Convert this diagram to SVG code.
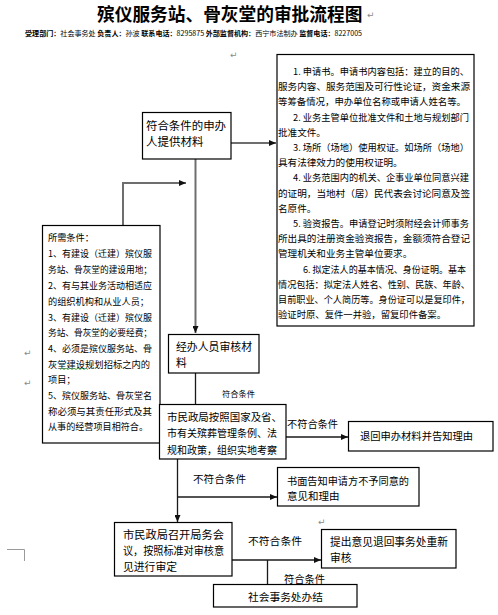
<svg xmlns="http://www.w3.org/2000/svg" width="498" height="615" viewBox="0 0 498 615">
<style>
text{font-family:"Noto Sans CJK SC","Noto Sans",sans-serif;fill:#000;dominant-baseline:central}
.title{font-size:17.7px;font-weight:bold}
.hdr{font-size:7px}
.b{font-weight:bold}
.box{fill:#fff;stroke:#000;stroke-width:1.2}
.t96{font-size:9.6px}
.t92{font-size:9.2px}
.t10{font-size:10.5px}
.t11{font-size:11.5px}
.lab{font-size:10.2px}
.mk{font-family:"DejaVu Sans",sans-serif;font-size:9px;fill:#8a8a8a}
.cg{fill:none;stroke:#6e6e6e;stroke-width:2}
.ck{fill:none;stroke:#1a1a1a;stroke-width:1.3}
</style>
<defs>
<marker id="arr" viewBox="0 0 7 6" refX="7" refY="3" markerWidth="7" markerHeight="6" markerUnits="userSpaceOnUse" orient="auto">
<path d="M0,0 L7,3 L0,6 z" fill="#111"/>
</marker>
</defs>
<rect width="498" height="615" fill="#fff"/>

<g id="title">
<text class="title" x="97" y="13">殡仪服务站、骨灰堂的审批流程图</text>
<text class="mk" x="367" y="15">↵</text>
</g>
<g id="header">
<text class="hdr" x="25" y="33" textLength="337" lengthAdjust="spacingAndGlyphs"><tspan class="b">受理部门：</tspan>社会事务处 <tspan class="b">负责人：</tspan>孙波 <tspan class="b">联系电话：</tspan>8295875 <tspan class="b">外部监督机构：</tspan>西宁市法制办 <tspan class="b">监督电话：</tspan>8227005</text>
</g>

<g id="marks">
<text class="mk" x="230" y="55">↵</text>
<text class="mk" x="24" y="353">↵</text>
<text class="mk" x="24" y="383">↵</text>
<text class="mk" x="318" y="522">↵</text>
<path d="M7,549.5 H24.5 V561" fill="none" stroke="#9a9a9a" stroke-width="1"/>
</g>

<g id="connectors">
<path class="cg" d="M231,143 H276" marker-end="url(#arr)"/>
<path class="cg" d="M195.5,159 V333" marker-end="url(#arr)"/>
<path class="cg" d="M123,225 V183 H186" marker-end="url(#arr)"/>
<path class="ck" d="M195.5,373 V404"/>
<path class="ck" d="M286,437 H348" marker-end="url(#arr)"/>
<path class="ck" d="M177.5,459 V522" marker-end="url(#arr)"/>
<path class="ck" d="M177.5,497 H277" marker-end="url(#arr)"/>
<path class="ck" d="M232,560 H321" marker-end="url(#arr)"/>
<path class="ck" d="M267.5,560 V584"/>
</g>

<g id="labels">
<text x="222" y="393" style="font-size:8.5px" textLength="33" lengthAdjust="spacingAndGlyphs">符合条件</text>
<text class="lab" x="287" y="423" textLength="51" lengthAdjust="spacingAndGlyphs">不符合条件</text>
<text class="lab" x="193" y="478" textLength="53" lengthAdjust="spacingAndGlyphs">不符合条件</text>
<text class="lab" x="248" y="540" textLength="54" lengthAdjust="spacingAndGlyphs">不符合条件</text>
<text class="lab" x="284" y="578" textLength="41" lengthAdjust="spacingAndGlyphs">符合条件</text>
</g>

<g id="node-materials-list">
<rect class="box" x="277" y="54.5" width="197" height="271.5"/>
<text class="t96" x="293" y="71" textLength="176" lengthAdjust="spacingAndGlyphs">1. 申请书。申请书内容包括：建立的目的、</text>
<text class="t96" x="278" y="86.2" textLength="192" lengthAdjust="spacingAndGlyphs">服务内容、服务范围及可行性论证，资金来源</text>
<text class="t96" x="278" y="101.4" textLength="188" lengthAdjust="spacingAndGlyphs">等筹备情况，申办单位名称或申请人姓名等。</text>
<text class="t96" x="293" y="116.6" textLength="176" lengthAdjust="spacingAndGlyphs">2. 业务主管单位批准文件和土地与规划部门</text>
<text class="t96" x="278" y="131.8">批准文件。</text>
<text class="t96" x="293" y="147" textLength="176" lengthAdjust="spacingAndGlyphs">3. 场所（场地）使用权证。如场所（场地）</text>
<text class="t96" x="278" y="162.2">具有法律效力的使用权证明。</text>
<text class="t96" x="293" y="177.4" textLength="176" lengthAdjust="spacingAndGlyphs">4. 业务范围内的机关、企事业单位同意兴建</text>
<text class="t96" x="278" y="192.6" textLength="192" lengthAdjust="spacingAndGlyphs">的证明，当地村（居）民代表会讨论同意及签</text>
<text class="t96" x="278" y="207.8">名原件。</text>
<text class="t96" x="293" y="223" textLength="176" lengthAdjust="spacingAndGlyphs">5. 验资报告。申请登记时须附经会计师事务</text>
<text class="t96" x="278" y="238.2" textLength="192" lengthAdjust="spacingAndGlyphs">所出具的注册资金验资报告，金额须符合登记</text>
<text class="t96" x="278" y="253.4">管理机关和业务主管单位要求。</text>
<text class="t96" x="303" y="268.6" textLength="163" lengthAdjust="spacingAndGlyphs">6. 拟定法人的基本情况、身份证明。基本</text>
<text class="t96" x="278" y="283.8" textLength="192" lengthAdjust="spacingAndGlyphs">情况包括：拟定法人姓名、性别、民族、年龄、</text>
<text class="t96" x="278" y="299" textLength="192" lengthAdjust="spacingAndGlyphs">目前职业、个人简历等。身份证可以是复印件，</text>
<text class="t96" x="278" y="314.2" textLength="168" lengthAdjust="spacingAndGlyphs">验证时原、复件一并验，留复印件备案。</text>
</g>

<g id="node-conditions">
<rect class="box" x="42.5" y="225.5" width="117.5" height="217.5"/>
<text class="t92" x="48" y="237">所需条件：</text>
<text class="t92" x="48" y="253" textLength="104" lengthAdjust="spacingAndGlyphs">1、有建设（迁建）殡仪服</text>
<text class="t92" x="48" y="269" textLength="104" lengthAdjust="spacingAndGlyphs">务站、骨灰堂的建设用地；</text>
<text class="t92" x="48" y="285" textLength="104" lengthAdjust="spacingAndGlyphs">2、有与其业务活动相适应</text>
<text class="t92" x="48" y="300.5">的组织机构和从业人员；</text>
<text class="t92" x="48" y="316.5" textLength="104" lengthAdjust="spacingAndGlyphs">3、有建设（迁建）殡仪服</text>
<text class="t92" x="48" y="332" textLength="104" lengthAdjust="spacingAndGlyphs">务站、骨灰堂的必要经费；</text>
<text class="t92" x="48" y="348" textLength="104" lengthAdjust="spacingAndGlyphs">4、必须是殡仪服务站、骨</text>
<text class="t92" x="48" y="363.5" textLength="102" lengthAdjust="spacingAndGlyphs">灰堂建设规划招标之内的</text>
<path d="M60,369.5 l2,-1.2 l2,1.2 l2,-1.2 l2,1.2 l2,-1.2 l2,1.2 l2,-1.2 l2,1.2 l2,-1.2 l2,1.2 l2,-1.2 l2,1.2 l2,-1.2 l2,1.2" fill="none" stroke="#3aa03a" stroke-width="0.8"/>
<text class="t92" x="48" y="379">项目；</text>
<text class="t92" x="48" y="395" textLength="104" lengthAdjust="spacingAndGlyphs">5、殡仪服务站、骨灰堂名</text>
<text class="t92" x="48" y="410.5" textLength="104" lengthAdjust="spacingAndGlyphs">称必须与其责任形式及其</text>
<text class="t92" x="48" y="426" textLength="100" lengthAdjust="spacingAndGlyphs">从事的经营项目相符合。</text>
</g>

<g id="node-applicant">
<rect class="box" x="142.5" y="112.5" width="88.5" height="46.5"/>
<text class="t11" x="146" y="125" textLength="80" lengthAdjust="spacingAndGlyphs">符合条件的申办</text>
<text class="t11" x="146" y="141">人提供材料</text>
</g>

<g id="node-review">
<rect class="box" x="168.5" y="334.5" width="90.5" height="38.5"/>
<text x="176" y="346" style="font-size:10.8px" textLength="76" lengthAdjust="spacingAndGlyphs">经办人员审核材</text>
<text x="176" y="362" style="font-size:10.8px">料</text>
</g>

<g id="node-inspection">
<rect class="box" x="159.5" y="404.5" width="126.5" height="54.5"/>
<text class="t10" x="167" y="416" textLength="115" lengthAdjust="spacingAndGlyphs">市民政局按照国家及省、</text>
<text class="t10" x="167" y="432.5" textLength="110" lengthAdjust="spacingAndGlyphs">市有关殡葬管理条例、法</text>
<text class="t10" x="167" y="449" textLength="110" lengthAdjust="spacingAndGlyphs">规和政策，组织实地考察</text>
</g>

<g id="node-return">
<rect class="box" x="348.5" y="421.5" width="144.5" height="29.5"/>
<text class="t10" x="360" y="435.5" textLength="113" lengthAdjust="spacingAndGlyphs">退回申办材料并告知理由</text>
</g>

<g id="node-notify">
<rect class="box" x="277.5" y="467.5" width="141.5" height="38.5"/>
<text class="t10" x="287" y="480" textLength="122" lengthAdjust="spacingAndGlyphs">书面告知申请方不予同意的</text>
<text class="t10" x="287" y="495">意见和理由</text>
</g>

<g id="node-meeting">
<rect class="box" x="114.5" y="522.5" width="117.5" height="53.5"/>
<text x="123" y="533.5" style="font-size:10.8px" textLength="101" lengthAdjust="spacingAndGlyphs">市民政局召开局务会</text>
<text x="123" y="549.5" style="font-size:10.8px" textLength="101" lengthAdjust="spacingAndGlyphs">议，按照标准对审核意</text>
<text x="123" y="565.5" style="font-size:10.8px">见进行审定</text>
</g>

<g id="node-recheck">
<rect class="box" x="321.5" y="529.5" width="134.5" height="38.5"/>
<text x="330" y="541" style="font-size:10.8px" textLength="118" lengthAdjust="spacingAndGlyphs">提出意见退回事务处重新</text>
<text x="330" y="557" style="font-size:10.8px">审核</text>
</g>

<g id="node-done">
<rect class="box" x="213.5" y="584.5" width="143.5" height="22.5"/>
<text x="248" y="596.5" style="font-size:10.7px" textLength="75" lengthAdjust="spacingAndGlyphs">社会事务处办结</text>
</g>
</svg>
